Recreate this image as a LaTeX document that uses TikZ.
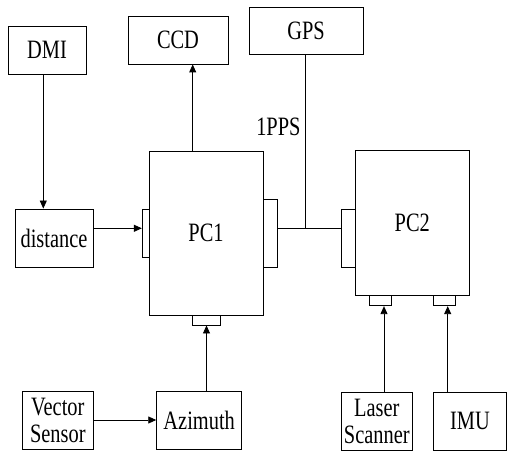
\documentclass[tikz,border=0pt]{standalone}
\usepackage{fontspec}
\setmainfont{Liberation Serif}
\usepackage{graphicx}
\newcommand{\nrw}[1]{\scalebox{0.77}[1]{#1}}
\usetikzlibrary{arrows.meta}
\begin{document}
\begin{tikzpicture}[x=1pt,y=-1pt,
  box/.style={draw=black,line width=0.9pt,rectangle,inner sep=0pt,
    font=\fontsize{26.5}{29}\selectfont,align=center},
  port/.style={draw=black,line width=0.9pt,rectangle,inner sep=0pt,fill=white},
  conn/.style={line width=0.9pt,draw=black},
  arr/.style={conn,-{Triangle[length=8pt,width=7pt]}},
  lbl/.style={inner sep=0pt,font=\fontsize{26.5}{29}\selectfont}]
\useasboundingbox (0,0) rectangle (507,452);
% main boxes
\node[box,minimum width=78,minimum height=48] (dmi) at (47,50) {\nrw{DMI}};
\node[box,minimum width=100,minimum height=48] (ccd) at (178,40) {\nrw{CCD}};
\node[box,minimum width=114,minimum height=47] (gps) at (306,30.5) {\nrw{GPS}};
\node[box,minimum width=78,minimum height=58] (dist) at (54,238) {\nrw{distance}};
\node[box,minimum width=114,minimum height=164] (pc1) at (206,233) {\nrw{PC1}};
\node[box,minimum width=114,minimum height=145] (pc2) at (412.3,223.3) {\nrw{PC2}};
\node[box,minimum width=71,minimum height=58] (vec) at (57.8,420.8) {\nrw{Vector}\\[-2pt]\nrw{Sensor}};
\node[box,minimum width=85,minimum height=58] (azi) at (199.2,420.8) {\nrw{Azimuth}};
\node[box,minimum width=71,minimum height=58] (las) at (376.8,421) {\nrw{Laser}\\[-2pt]\nrw{Scanner}};
\node[box,minimum width=73.4,minimum height=58] (imu) at (470,421) {\nrw{IMU}};
% ports
\node[port,minimum width=7,minimum height=48] (p1l) at (145.8,233) {};
\node[port,minimum width=14.4,minimum height=68] (p1r) at (270.5,233.3) {};
\node[port,minimum width=28,minimum height=10] (p1b) at (206.5,320) {};
\node[port,minimum width=14,minimum height=58] (p2l) at (348.3,238) {};
\node[port,minimum width=22,minimum height=10] (p2a) at (380.5,300.7) {};
\node[port,minimum width=22,minimum height=10] (p2b) at (444.3,300.7) {};
% coordinates
\coordinate (dmix) at (43.3,0);
\coordinate (ccdx) at (192.7,0);
\coordinate (gpsx) at (305.7,0);
\coordinate (lasx) at (384,0);
\coordinate (imux) at (447.7,0);
\coordinate (jy) at (0,228.3);
\coordinate (junc) at (gpsx |- jy);
% connectors
\draw[arr] (dmi.south -| dmix) -- (dist.north -| dmix);
\draw[arr] (dist.east |- jy) -- (p1l.west |- jy);
\draw[arr] (pc1.north -| ccdx) -- (ccd.south -| ccdx);
\draw[conn] (gps.south -| gpsx) -- (junc);
\draw[conn] (p1r.east |- jy) -- (p2l.west |- jy);
\draw[arr] (vec.east |- 0,420) -- (azi.west |- 0,420);
\draw[arr] (azi.north -| p1b) -- (p1b.south);
\draw[arr] (las.north -| lasx) -- (p2a.south -| lasx);
\draw[arr] (imu.north -| imux) -- (p2b.south -| imux);
\node[lbl,anchor=east] (pps) at (300.7,127) {\nrw{1PPS}};
\end{tikzpicture}
\end{document}
